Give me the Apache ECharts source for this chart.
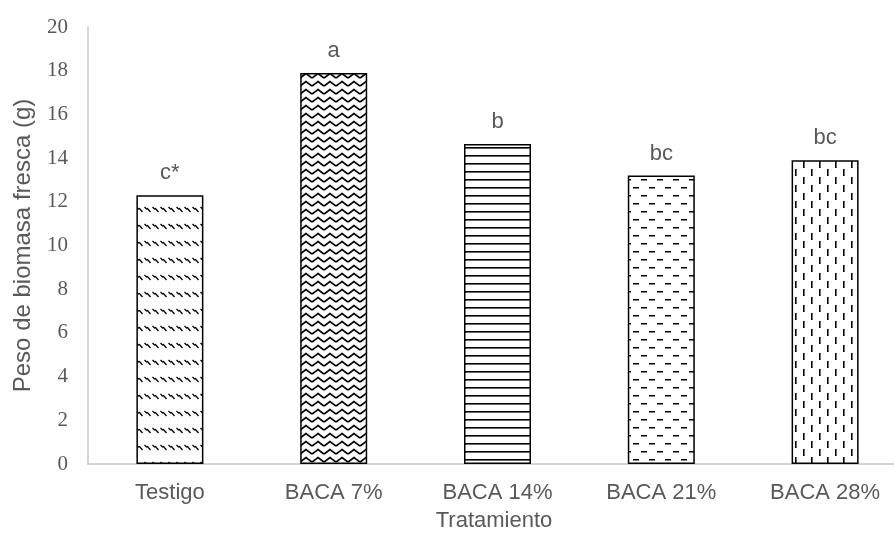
<!DOCTYPE html>
<html>
<head>
<meta charset="utf-8">
<script src="https://cdn.jsdelivr.net/npm/echarts@6/dist/echarts.min.js"></script>
<style>
html,body{margin:0;padding:0;background:#fff;overflow:hidden;width:894px;height:537px;}
#chart{width:907px;height:537px;}
</style>
</head>
<body>
<div id="chart"></div>
<script>
const categories = ['Testigo', 'BACA 7%', 'BACA 14%', 'BACA 21%', 'BACA 28%'];
const values = [12.3, 17.9, 14.65, 13.2, 13.9];
const letters = ['c*', 'a', 'b', 'bc', 'bc'];
const yTicks = [0, 2, 4, 6, 8, 10, 12, 14, 16, 18, 20];

function makeCanvas(w, h, draw) {
  const c = document.createElement('canvas');
  c.width = w; c.height = h;
  const ctx = c.getContext('2d');
  ctx.fillStyle = '#fff';
  ctx.fillRect(0, 0, w, h);
  ctx.strokeStyle = '#000';
  ctx.fillStyle = '#000';
  draw(ctx);
  return c;
}
// Testigo: rows of short backslash squiggles
const p0 = makeCanvas(8, 17, ctx => {
  ctx.lineWidth = 1.3;
  ctx.beginPath();
  ctx.moveTo(0.5, 3); ctx.lineTo(2.5, 5); ctx.lineTo(3.5, 4.5); ctx.lineTo(6.5, 8);
  ctx.stroke();
});
// BACA 7%: zigzag
const p1 = makeCanvas(12, 8, ctx => {
  ctx.lineWidth = 1.8;
  ctx.beginPath();
  ctx.moveTo(0, 6); ctx.lineTo(6, 1.5); ctx.lineTo(12, 6);
  ctx.stroke();
});
// BACA 14%: horizontal lines
const p2 = makeCanvas(8, 8, ctx => {
  ctx.fillRect(0, 3, 8, 1.6);
});
// BACA 21%: dashed horizontal lines, alternating offset
const p3 = makeCanvas(16, 16, ctx => {
  ctx.fillRect(1, 3, 6, 1.5);
  ctx.fillRect(9, 11, 6, 1.5);
});
// BACA 28%: vertical dashes
const p4 = makeCanvas(16, 16, ctx => {
  ctx.fillRect(3, 1, 1.6, 7);
  ctx.fillRect(11, 9, 1.6, 7);
});
const patterns = [p0, p1, p2, p3, p4];

const chart = echarts.init(document.getElementById('chart'), null, {renderer: 'canvas', width: 907, height: 537});
const axisGray = '#595959';
chart.setOption({
  animation: false,
  backgroundColor: '#ffffff',
  grid: {left: 88, top: 27, right: 0, bottom: 73, containLabel: false},
  xAxis: {
    type: 'category',
    data: categories,
    axisLine: {lineStyle: {color: '#c8c8c8', width: 1.5}},
    axisTick: {show: false},
    axisLabel: {color: axisGray, fontFamily: 'Liberation Sans', fontSize: 22, margin: 18},
    name: 'Tratamiento',
    nameLocation: 'middle',
    nameGap: 46,
    nameTextStyle: {color: axisGray, fontFamily: 'Liberation Sans', fontSize: 22, padding: [0, 7, 0, 0]}
  },
  yAxis: {
    type: 'value',
    min: yTicks[0],
    max: yTicks[yTicks.length - 1],
    interval: yTicks[1] - yTicks[0],
    splitLine: {show: false},
    axisLine: {show: true, lineStyle: {color: '#c8c8c8', width: 1.5}},
    axisTick: {show: false},
    axisLabel: {color: axisGray, fontFamily: 'Liberation Serif', fontSize: 21, margin: 20},
    name: 'Peso de biomasa fresca (g)',
    nameLocation: 'middle',
    nameGap: 53,
    nameTextStyle: {color: axisGray, fontFamily: 'Liberation Sans', fontSize: 24}
  },
  series: [{
    type: 'bar',
    barWidth: 67,
    data: values.map((v, i) => ({
      value: v,
      itemStyle: {color: {image: patterns[i], repeat: 'repeat'}},
      label: {formatter: letters[i]}
    })),
    itemStyle: {borderColor: '#000', borderWidth: 1.5},
    label: {
      show: true,
      position: 'top',
      distance: 11,
      color: axisGray,
      fontFamily: 'Liberation Sans',
      fontSize: 22
    }
  }]
});
</script>
</body>
</html>
